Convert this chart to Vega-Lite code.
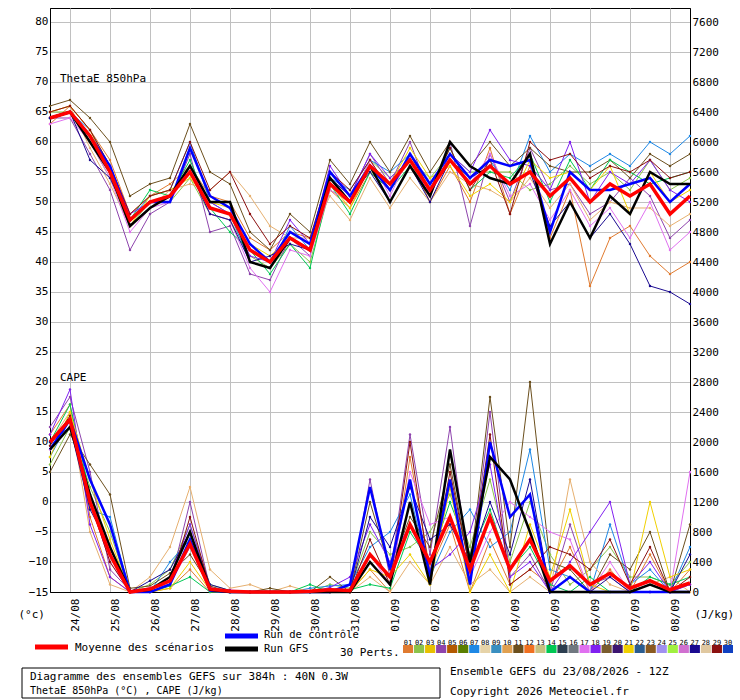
{
  "$schema": "https://vega.github.io/schema/vega-lite/v6.json",
  "autosize": "none",
  "width": 640,
  "height": 584,
  "padding": {"left": 50, "top": 8, "right": 50, "bottom": 108},
  "background": "white",
  "config": {
    "font": "DejaVu Sans Mono",
    "view": {"stroke": "black", "strokeWidth": 1},
    "axis": {"labelFont": "DejaVu Sans Mono", "labelFontSize": 11, "labelColor": "black", "titleFont": "DejaVu Sans Mono", "titleFontSize": 11, "titleFontWeight": "normal", "domainColor": "black", "ticks": false, "gridColor": "#c0c0c0", "gridOpacity": 1},
    "text": {"font": "DejaVu Sans Mono", "fontSize": 11}
  },
  "datasets": {
    "theta": [
      {"h":0,"mean":64,"ctl":64,"gfs":64,"p01":63,"p02":65,"p04":64,"p07":64,"p08":65,"p11":66,"p14":64,"p17":63,"p18":64,"p21":65,"p27":64,"p29":65},
      {"h":12,"mean":65,"ctl":65,"gfs":65,"p01":66,"p02":65,"p04":64,"p07":65,"p08":66,"p11":67,"p14":65,"p17":64,"p18":65,"p21":66,"p27":65,"p29":66},
      {"h":24,"mean":61,"ctl":61,"gfs":60,"p01":62,"p02":60,"p04":58,"p07":62,"p08":59,"p11":64,"p14":61,"p17":60,"p18":61,"p21":62,"p27":57,"p29":62},
      {"h":36,"mean":55,"ctl":56,"gfs":55,"p01":57,"p02":54,"p04":52,"p07":56,"p08":53,"p11":60,"p14":55,"p17":54,"p18":56,"p21":55,"p27":54,"p29":56},
      {"h":48,"mean":47,"ctl":47,"gfs":46,"p01":48,"p02":46,"p04":42,"p07":47,"p08":46,"p11":51,"p14":47,"p17":45,"p18":48,"p21":46,"p27":47,"p29":48},
      {"h":60,"mean":50,"ctl":50,"gfs":49,"p01":51,"p02":50,"p04":48,"p07":51,"p08":49,"p11":53,"p14":52,"p17":49,"p18":50,"p21":51,"p27":50,"p29":51},
      {"h":72,"mean":51,"ctl":50,"gfs":51,"p01":53,"p02":50,"p04":50,"p07":52,"p08":52,"p11":54,"p14":51,"p17":50,"p18":51,"p21":52,"p27":51,"p29":52},
      {"h":84,"mean":55,"ctl":59,"gfs":56,"p01":56,"p02":54,"p04":58,"p07":60,"p08":53,"p11":63,"p14":57,"p17":56,"p18":55,"p21":54,"p27":55,"p29":60},
      {"h":96,"mean":49,"ctl":51,"gfs":50,"p01":51,"p02":48,"p04":45,"p07":50,"p08":52,"p11":55,"p14":49,"p17":48,"p18":50,"p21":50,"p27":48,"p29":52},
      {"h":108,"mean":48,"ctl":49,"gfs":50,"p01":50,"p02":47,"p04":46,"p07":48,"p08":55,"p11":53,"p14":45,"p17":47,"p18":48,"p21":49,"p27":47,"p29":55},
      {"h":120,"mean":42,"ctl":43,"gfs":40,"p01":44,"p02":41,"p04":38,"p07":40,"p08":51,"p11":45,"p14":42,"p17":39,"p18":41,"p21":43,"p27":40,"p29":48},
      {"h":132,"mean":40,"ctl":40,"gfs":39,"p01":42,"p02":39,"p04":37,"p07":39,"p08":46,"p11":42,"p14":38,"p17":35,"p18":40,"p21":41,"p27":41,"p29":43},
      {"h":144,"mean":44,"ctl":45,"gfs":44,"p01":45,"p02":43,"p04":44,"p07":46,"p08":44,"p11":48,"p14":43,"p17":42,"p18":47,"p21":44,"p27":43,"p29":46},
      {"h":156,"mean":42,"ctl":43,"gfs":42,"p01":44,"p02":40,"p04":41,"p07":42,"p08":44,"p11":45,"p14":39,"p17":41,"p18":43,"p21":42,"p27":42,"p29":44},
      {"h":168,"mean":53,"ctl":55,"gfs":54,"p01":52,"p02":52,"p04":55,"p07":54,"p08":51,"p11":57,"p14":53,"p17":52,"p18":56,"p21":53,"p27":54,"p29":55},
      {"h":180,"mean":50,"ctl":51,"gfs":50,"p01":49,"p02":50,"p04":51,"p07":52,"p08":47,"p11":53,"p14":48,"p17":50,"p18":51,"p21":49,"p27":51,"p29":52},
      {"h":192,"mean":56,"ctl":56,"gfs":56,"p01":55,"p02":57,"p04":58,"p07":57,"p08":54,"p11":60,"p14":55,"p17":57,"p18":58,"p21":56,"p27":55,"p29":57},
      {"h":204,"mean":53,"ctl":52,"gfs":50,"p01":52,"p02":54,"p04":53,"p07":55,"p08":49,"p11":55,"p14":52,"p17":51,"p18":54,"p21":53,"p27":50,"p29":52},
      {"h":216,"mean":57,"ctl":58,"gfs":56,"p01":57,"p02":57,"p04":60,"p07":58,"p08":54,"p11":61,"p14":56,"p17":58,"p18":57,"p21":59,"p27":56,"p29":58},
      {"h":228,"mean":52,"ctl":53,"gfs":51,"p01":50,"p02":54,"p04":51,"p07":53,"p08":50,"p11":55,"p14":52,"p17":53,"p18":51,"p21":54,"p27":50,"p29":52},
      {"h":240,"mean":57,"ctl":58,"gfs":60,"p01":56,"p02":58,"p04":60,"p07":57,"p08":55,"p11":60,"p14":59,"p17":57,"p18":58,"p21":56,"p27":57,"p29":59},
      {"h":252,"mean":53,"ctl":54,"gfs":56,"p01":50,"p02":55,"p04":46,"p07":54,"p08":53,"p11":56,"p14":52,"p17":53,"p18":55,"p21":51,"p27":54,"p29":52},
      {"h":264,"mean":56,"ctl":57,"gfs":54,"p01":59,"p02":55,"p04":58,"p07":57,"p08":52,"p11":60,"p14":55,"p17":58,"p18":62,"p21":53,"p27":56,"p29":57},
      {"h":276,"mean":53,"ctl":56,"gfs":53,"p01":48,"p02":55,"p04":50,"p07":52,"p08":50,"p11":56,"p14":54,"p17":51,"p18":57,"p21":50,"p27":53,"p29":48},
      {"h":288,"mean":55,"ctl":57,"gfs":58,"p01":56,"p02":52,"p04":59,"p07":61,"p08":54,"p11":59,"p14":58,"p17":53,"p18":56,"p21":57,"p27":55,"p29":60},
      {"h":300,"mean":51,"ctl":45,"gfs":43,"p01":44,"p02":53,"p04":52,"p07":55,"p08":49,"p11":56,"p14":50,"p17":47,"p18":52,"p21":54,"p27":46,"p29":57},
      {"h":312,"mean":54,"ctl":55,"gfs":50,"p01":52,"p02":56,"p04":53,"p07":58,"p08":53,"p11":55,"p14":57,"p17":52,"p18":60,"p21":55,"p27":50,"p29":58},
      {"h":324,"mean":50,"ctl":52,"gfs":44,"p01":36,"p02":53,"p04":48,"p07":56,"p08":47,"p11":55,"p14":52,"p17":46,"p18":50,"p21":52,"p27":44,"p29":54},
      {"h":336,"mean":53,"ctl":52,"gfs":51,"p01":44,"p02":55,"p04":50,"p07":58,"p08":50,"p11":57,"p14":57,"p17":49,"p18":55,"p21":56,"p27":48,"p29":56},
      {"h":348,"mean":51,"ctl":53,"gfs":48,"p01":46,"p02":52,"p04":54,"p07":56,"p08":49,"p11":54,"p14":55,"p17":44,"p18":53,"p21":48,"p27":43,"p29":55},
      {"h":360,"mean":53,"ctl":54,"gfs":55,"p01":41,"p02":57,"p04":51,"p07":60,"p08":49,"p11":58,"p14":53,"p17":50,"p18":57,"p21":55,"p27":36,"p29":57},
      {"h":372,"mean":48,"ctl":50,"gfs":53,"p01":38,"p02":52,"p04":44,"p07":58,"p08":46,"p11":56,"p14":54,"p17":42,"p18":52,"p21":50,"p27":35,"p29":54},
      {"h":384,"mean":51,"ctl":53,"gfs":53,"p01":40,"p02":54,"p04":47,"p07":61,"p08":48,"p11":58,"p14":55,"p17":45,"p18":50,"p21":52,"p27":33,"p29":55}
    ],
    "cape": [
      {"h":0,"mean":2000,"ctl":1900,"gfs":1900,"p01":2100,"p02":1700,"p04":2200,"p07":1800,"p08":2000,"p11":1600,"p14":2000,"p17":1900,"p18":2100,"p21":1800,"p27":2000,"p29":1950},
      {"h":12,"mean":2300,"ctl":2300,"gfs":2200,"p01":2500,"p02":2200,"p04":2600,"p07":2300,"p08":2400,"p11":2100,"p14":2500,"p17":2300,"p18":2700,"p21":2400,"p27":2200,"p29":2350},
      {"h":24,"mean":1200,"ctl":1500,"gfs":1300,"p01":1000,"p02":1400,"p04":1600,"p07":1100,"p08":800,"p11":1700,"p14":1300,"p17":1200,"p18":900,"p21":1500,"p27":1100,"p29":1200},
      {"h":36,"mean":500,"ctl":900,"gfs":600,"p01":200,"p02":800,"p04":300,"p07":1000,"p08":100,"p11":1300,"p14":500,"p17":400,"p18":200,"p21":700,"p27":600,"p29":400},
      {"h":48,"mean":0,"ctl":0,"gfs":0,"p01":0,"p02":0,"p04":20,"p07":0,"p08":0,"p11":50,"p14":0,"p17":0,"p18":0,"p21":0,"p27":0,"p29":0},
      {"h":60,"mean":40,"ctl":0,"gfs":30,"p01":0,"p02":100,"p04":50,"p07":0,"p08":200,"p11":80,"p14":0,"p17":60,"p18":20,"p21":0,"p27":150,"p29":0},
      {"h":72,"mean":150,"ctl":100,"gfs":200,"p01":50,"p02":300,"p04":100,"p07":400,"p08":600,"p11":250,"p14":80,"p17":100,"p18":200,"p21":50,"p27":300,"p29":100},
      {"h":84,"mean":640,"ctl":700,"gfs":800,"p01":300,"p02":900,"p04":1200,"p07":700,"p08":1400,"p11":500,"p14":200,"p17":600,"p18":900,"p21":400,"p27":800,"p29":1000},
      {"h":96,"mean":40,"ctl":20,"gfs":30,"p01":0,"p02":100,"p04":50,"p07":20,"p08":300,"p11":80,"p14":0,"p17":40,"p18":60,"p21":20,"p27":100,"p29":50},
      {"h":108,"mean":10,"ctl":0,"gfs":0,"p01":0,"p02":20,"p04":0,"p07":0,"p08":50,"p11":0,"p14":0,"p17":30,"p18":0,"p21":0,"p27":20,"p29":0},
      {"h":120,"mean":0,"ctl":0,"gfs":0,"p01":0,"p02":0,"p04":0,"p07":0,"p08":100,"p11":0,"p14":0,"p17":0,"p18":0,"p21":0,"p27":0,"p29":0},
      {"h":132,"mean":0,"ctl":0,"gfs":0,"p01":0,"p02":0,"p04":0,"p07":0,"p08":0,"p11":50,"p14":0,"p17":0,"p18":0,"p21":0,"p27":0,"p29":0},
      {"h":144,"mean":0,"ctl":0,"gfs":0,"p01":0,"p02":0,"p04":0,"p07":0,"p08":80,"p11":0,"p14":0,"p17":0,"p18":0,"p21":0,"p27":0,"p29":0},
      {"h":156,"mean":10,"ctl":0,"gfs":0,"p01":0,"p02":0,"p04":0,"p07":50,"p08":0,"p11":0,"p14":100,"p17":0,"p18":0,"p21":0,"p27":0,"p29":0},
      {"h":168,"mean":30,"ctl":0,"gfs":0,"p01":50,"p02":100,"p04":0,"p07":80,"p08":0,"p11":200,"p14":0,"p17":0,"p18":60,"p21":0,"p27":0,"p29":40},
      {"h":180,"mean":20,"ctl":100,"gfs":0,"p01":0,"p02":50,"p04":0,"p07":100,"p08":0,"p11":0,"p14":30,"p17":0,"p18":200,"p21":0,"p27":0,"p29":0},
      {"h":192,"mean":500,"ctl":1400,"gfs":400,"p01":300,"p02":800,"p04":1500,"p07":600,"p08":200,"p11":1200,"p14":100,"p17":500,"p18":900,"p21":300,"p27":1000,"p29":700},
      {"h":204,"mean":200,"ctl":300,"gfs":100,"p01":0,"p02":500,"p04":200,"p07":800,"p08":0,"p11":300,"p14":50,"p17":100,"p18":400,"p21":200,"p27":600,"p29":100},
      {"h":216,"mean":900,"ctl":1500,"gfs":1200,"p01":1800,"p02":600,"p04":2100,"p07":1300,"p08":400,"p11":1000,"p14":800,"p17":1600,"p18":900,"p21":500,"p27":1400,"p29":2000},
      {"h":228,"mean":400,"ctl":200,"gfs":100,"p01":300,"p02":800,"p04":500,"p07":200,"p08":100,"p11":600,"p14":400,"p17":900,"p18":300,"p21":100,"p27":700,"p29":200},
      {"h":240,"mean":1000,"ctl":1500,"gfs":1900,"p01":900,"p02":1300,"p04":2200,"p07":800,"p08":600,"p11":1700,"p14":1200,"p17":1000,"p18":500,"p21":1400,"p27":900,"p29":1600},
      {"h":252,"mean":300,"ctl":100,"gfs":400,"p01":0,"p02":600,"p04":200,"p07":1100,"p08":100,"p11":300,"p14":500,"p17":200,"p18":800,"p21":0,"p27":400,"p29":300},
      {"h":264,"mean":1000,"ctl":2000,"gfs":1800,"p01":700,"p02":1500,"p04":2400,"p07":600,"p08":300,"p11":2600,"p14":1100,"p17":800,"p18":1700,"p21":500,"p27":1200,"p29":2100},
      {"h":276,"mean":300,"ctl":1000,"gfs":1500,"p01":100,"p02":400,"p04":200,"p07":800,"p08":0,"p11":600,"p14":300,"p17":1200,"p18":200,"p21":0,"p27":500,"p29":100},
      {"h":288,"mean":700,"ctl":1300,"gfs":800,"p01":300,"p02":1200,"p04":500,"p07":1900,"p08":200,"p11":2800,"p14":600,"p17":1000,"p18":400,"p21":900,"p27":1500,"p29":300},
      {"h":300,"mean":150,"ctl":0,"gfs":0,"p01":100,"p02":500,"p04":0,"p07":300,"p08":0,"p11":400,"p14":100,"p17":800,"p18":0,"p21":200,"p27":0,"p29":600},
      {"h":312,"mean":350,"ctl":200,"gfs":0,"p01":600,"p02":100,"p04":900,"p07":200,"p08":1500,"p11":300,"p14":0,"p17":700,"p18":400,"p21":1100,"p27":200,"p29":500},
      {"h":324,"mean":100,"ctl":0,"gfs":0,"p01":0,"p02":300,"p04":100,"p07":0,"p08":400,"p11":0,"p14":200,"p17":0,"p18":800,"p21":100,"p27":0,"p29":300},
      {"h":336,"mean":250,"ctl":0,"gfs":0,"p01":300,"p02":600,"p04":200,"p07":900,"p08":100,"p11":500,"p14":0,"p17":400,"p18":1200,"p21":0,"p27":200,"p29":700},
      {"h":348,"mean":50,"ctl":0,"gfs":0,"p01":0,"p02":200,"p04":0,"p07":100,"p08":0,"p11":300,"p14":0,"p17":0,"p18":100,"p21":0,"p27":0,"p29":100},
      {"h":360,"mean":150,"ctl":0,"gfs":100,"p01":500,"p02":200,"p04":0,"p07":300,"p08":100,"p11":800,"p14":200,"p17":0,"p18":400,"p21":1200,"p27":0,"p29":600},
      {"h":372,"mean":30,"ctl":0,"gfs":0,"p01":0,"p02":100,"p04":0,"p07":0,"p08":200,"p11":0,"p14":100,"p17":0,"p18":0,"p21":200,"p27":0,"p29":0},
      {"h":384,"mean":120,"ctl":0,"gfs":0,"p01":300,"p02":400,"p04":100,"p07":600,"p08":0,"p11":900,"p14":200,"p17":1600,"p18":100,"p21":300,"p27":500,"p29":200}
    ],
    "notes": [
      {"h":6,"t":70.5,"label":"ThetaE 850hPa"},
      {"h":6,"t":20.6,"label":"CAPE"}
    ],
    "perts": [
      {"n":"01","c":"#e07b30"},{"n":"02","c":"#8bc34a"},{"n":"03","c":"#e8c000"},{"n":"04","c":"#8e44ad"},{"n":"05","c":"#b35900"},
      {"n":"06","c":"#5a7f00"},{"n":"07","c":"#1e88e5"},{"n":"08","c":"#e6d3a8"},{"n":"09","c":"#3a8fc0"},{"n":"10","c":"#e0a050"},
      {"n":"11","c":"#6b4f1d"},{"n":"12","c":"#f07020"},{"n":"13","c":"#c8c080"},{"n":"14","c":"#00c853"},{"n":"15","c":"#2c3e50"},
      {"n":"16","c":"#707880"},{"n":"17","c":"#e070f0"},{"n":"18","c":"#8020f0"},{"n":"19","c":"#7a5c2e"},{"n":"20","c":"#3c1470"},
      {"n":"21","c":"#f0d000"},{"n":"22","c":"#2a5c90"},{"n":"23","c":"#8a5a20"},{"n":"24","c":"#a090f0"},{"n":"25","c":"#a0f040"},
      {"n":"26","c":"#d070d0"},{"n":"27","c":"#1a0a90"},{"n":"28","c":"#e0c8a0"},{"n":"29","c":"#8b1010"},{"n":"30","c":"#1040c0"}
    ],
    "legend": [
      {"x":35,"x2":68,"y":647,"c":"#ff0000"},
      {"x":225,"x2":258,"y":636,"c":"#0000ff"},
      {"x":225,"x2":258,"y":649,"c":"#000000"}
    ],
    "texts": [
      {"x":75,"y":648,"label":"Moyenne des scénarios","w":"normal","s":11},
      {"x":264,"y":635,"label":"Run de contrôle","w":"normal","s":10.5},
      {"x":264,"y":649,"label":"Run GFS","w":"normal","s":10.5},
      {"x":340,"y":653,"label":"30 Perts.","w":"normal","s":11},
      {"x":30,"y":677,"label":"Diagramme des ensembles GEFS sur 384h : 40N 0.3W","w":"bold","s":11},
      {"x":30,"y":691,"label":"ThetaE 850hPa (°C) , CAPE (J/kg)","w":"normal","s":10},
      {"x":450,"y":672,"label":"Ensemble GEFS du 23/08/2026 - 12Z","w":"normal","s":11},
      {"x":450,"y":692,"label":"Copyright 2026 Meteociel.fr","w":"bold","s":11}
    ],
    "box": [{"x":22,"x2":440,"y":668,"y2":698}]
  },
  "layer": [
    {
      "layer": [
        {
          "data": {"name": "theta"},
          "transform": [{"fold": ["p01","p02","p04","p07","p08","p11","p14","p17","p18","p21","p27","p29"]}],
          "mark": {"type": "line", "strokeWidth": 1, "point": {"size": 6, "filled": true}},
          "encoding": {
            "x": {"field": "h", "type": "quantitative", "scale": {"domain": [0, 384], "nice": false},
              "axis": {"values": [12,36,60,84,108,132,156,180,204,228,252,276,300,324,348,372], "title": null, "grid": true, "labelAngle": -90, "labelAlign": "right", "labelBaseline": "middle", "labelOffset": 5, "labelPadding": 6,
                "labelExpr": "utcFormat(utc(2026,7,23,12) + datum.value*3600000, '%d/%m')"}},
            "y": {"field": "value", "type": "quantitative", "scale": {"domain": [-15, 82.33], "nice": false, "zero": false},
              "axis": {"values": [-15,-10,-5,0,5,10,15,20,25,30,35,40,45,50,55,60,65,70,75,80], "grid": true, "title": "(°c)", "titleAngle": 0, "titleX": -32, "titleY": 600, "titleAlign": "left", "titleBaseline": "top"}},
            "color": {"field": "key", "type": "nominal", "legend": null,
              "scale": {"domain": ["p01","p02","p04","p07","p08","p11","p14","p17","p18","p21","p27","p29"], "range": ["#e07b30","#8bc34a","#8e44ad","#1e88e5","#e6b070","#6b4f1d","#00c853","#e070f0","#8020f0","#f0d000","#1a0a90","#8b1010"]}},
            "detail": {"field": "key"}
          }
        },
        {
          "data": {"name": "theta"},
          "transform": [{"fold": ["ctl","gfs"]}],
          "mark": {"type": "line", "strokeWidth": 2.5},
          "encoding": {
            "x": {"field": "h", "type": "quantitative"},
            "y": {"field": "value", "type": "quantitative", "scale": {"domain": [-15, 82.33], "nice": false, "zero": false}, "axis": null},
            "stroke": {"field": "key", "type": "nominal", "legend": null, "scale": {"domain": ["ctl","gfs"], "range": ["#0000ff","#000000"]}}
          }
        },
        {
          "data": {"name": "theta"},
          "mark": {"type": "line", "strokeWidth": 3.5, "color": "#ff0000"},
          "encoding": {
            "x": {"field": "h", "type": "quantitative"},
            "y": {"field": "mean", "type": "quantitative", "scale": {"domain": [-15, 82.33], "nice": false, "zero": false}, "axis": null}
          }
        },
        {
          "data": {"name": "cape"},
          "transform": [{"fold": ["p01","p02","p04","p07","p08","p11","p14","p17","p18","p21","p27","p29"]}],
          "mark": {"type": "line", "strokeWidth": 1, "point": {"size": 6, "filled": true}},
          "encoding": {
            "x": {"field": "h", "type": "quantitative"},
            "y": {"field": "value", "type": "quantitative", "scale": {"domain": [0, 7787], "nice": false},
              "axis": {"orient": "right", "format": "d", "values": [0,400,800,1200,1600,2000,2400,2800,3200,3600,4000,4400,4800,5200,5600,6000,6400,6800,7200,7600], "grid": false, "title": "(J/kg)", "titleAngle": 0, "titleX": 4, "titleY": 600, "titleAlign": "left", "titleBaseline": "top"}},
            "color": {"field": "key", "type": "nominal", "legend": null},
            "detail": {"field": "key"}
          }
        },
        {
          "data": {"name": "cape"},
          "transform": [{"fold": ["ctl","gfs"]}],
          "mark": {"type": "line", "strokeWidth": 2.5},
          "encoding": {
            "x": {"field": "h", "type": "quantitative"},
            "y": {"field": "value", "type": "quantitative", "scale": {"domain": [0, 7787], "nice": false}, "axis": null},
            "stroke": {"field": "key", "type": "nominal", "legend": null}
          }
        },
        {
          "data": {"name": "cape"},
          "mark": {"type": "line", "strokeWidth": 3.5, "color": "#ff0000"},
          "encoding": {
            "x": {"field": "h", "type": "quantitative"},
            "y": {"field": "mean", "type": "quantitative", "scale": {"domain": [0, 7787], "nice": false}, "axis": null}
          }
        },
        {
          "data": {"name": "notes"},
          "mark": {"type": "text", "align": "left", "baseline": "middle", "fontSize": 11, "color": "black"},
          "encoding": {
            "x": {"field": "h", "type": "quantitative"},
            "y": {"field": "t", "type": "quantitative", "scale": {"domain": [-15, 82.33], "nice": false, "zero": false}, "axis": null},
            "text": {"field": "label"}
          }
        }
      ],
      "resolve": {"scale": {"y": "independent"}}
    },
    {
      "layer": [
        {
          "data": {"name": "legend"},
          "mark": {"type": "rule", "strokeWidth": 5},
          "encoding": {
            "x": {"field": "x", "type": "quantitative", "scale": {"domain": [0, 740], "range": [-50, 690], "nice": false, "zero": false}, "axis": null},
            "x2": {"field": "x2"},
            "y": {"field": "y", "type": "quantitative", "scale": {"domain": [0, 700], "range": [-8, 692], "nice": false, "zero": false}, "axis": null},
            "color": {"field": "c", "type": "nominal", "scale": null}
          }
        },
        {
          "data": {"name": "texts"},
          "mark": {"type": "text", "align": "left", "baseline": "middle", "color": "black"},
          "encoding": {
            "x": {"field": "x", "type": "quantitative", "scale": {"domain": [0, 740], "range": [-50, 690], "nice": false, "zero": false}, "axis": null},
            "y": {"field": "y", "type": "quantitative", "scale": {"domain": [0, 700], "range": [-8, 692], "nice": false, "zero": false}, "axis": null},
            "text": {"field": "label"},
            "fontWeight": {"field": "w", "type": "nominal", "scale": null},
            "size": {"field": "s", "type": "quantitative", "scale": null}
          }
        },
        {
          "data": {"name": "box"},
          "mark": {"type": "rect", "fill": null, "stroke": "black", "strokeWidth": 1},
          "encoding": {
            "x": {"field": "x", "type": "quantitative", "scale": {"domain": [0, 740], "range": [-50, 690], "nice": false, "zero": false}, "axis": null},
            "x2": {"field": "x2"},
            "y": {"field": "y", "type": "quantitative", "scale": {"domain": [0, 700], "range": [-8, 692], "nice": false, "zero": false}, "axis": null},
            "y2": {"field": "y2"}
          }
        },
        {
          "data": {"name": "perts"},
          "layer": [
            {
              "mark": {"type": "rect", "height": 8, "y": 641},
              "encoding": {
                "x": {"field": "n", "type": "ordinal", "scale": {"range": [353, 683], "paddingInner": 0.08, "paddingOuter": 0}, "axis": null},
                "color": {"field": "c", "type": "nominal", "scale": null}
              }
            },
            {
              "mark": {"type": "text", "fontSize": 7, "baseline": "middle", "y": 635},
              "encoding": {
                "x": {"field": "n", "type": "ordinal", "bandPosition": 0.5, "axis": null},
                "text": {"field": "n"}
              }
            }
          ]
        }
      ],
      "resolve": {"scale": {"x": "independent", "y": "independent"}}
    }
  ],
  "resolve": {"scale": {"x": "independent", "y": "independent"}}
}
